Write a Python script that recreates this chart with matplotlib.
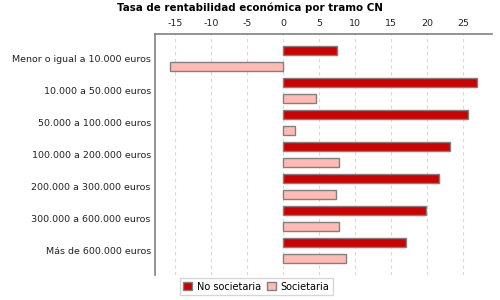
import matplotlib.pyplot as plt
import numpy as np

# Data
tramos = ['Menor o igual a 10.000 euros', '10.000 a 50.000 euros', '50.000 a 100.000 euros',
          '100.000 a 200.000 euros', '200.000 a 300.000 euros', '300.000 a 600.000 euros',
          'Más de 600.000 euros']
no_societaria = [7.5, 26.9, 25.6, 23.1, 21.7, 19.9, 17.1]
societaria = [-15.7, 4.5, 1.7, 7.7, 7.4, 7.8, 8.7]
xticks = [-15, -10, -5, 0, 5, 10, 15, 20, 25]

red = '#CC0000'
pink = '#FFBBB3'
edge = '#808080'

fig = plt.figure(figsize=(5, 3), dpi=100, facecolor='white')
ax = fig.add_axes([0.31, 0.083, 0.674, 0.804])

y = np.arange(len(tramos))
h = 0.27
ax.barh(y - 0.245, no_societaria, height=h, color=red, edgecolor=edge, linewidth=1, label='No societaria', zorder=3)
ax.barh(y + 0.245, societaria, height=h, color=pink, edgecolor=edge, linewidth=1, label='Societaria', zorder=3)

ax.set_xlim(-17.8, 29.0)
ax.set_ylim(6.77, -0.77)
ax.set_yticks(y)
ax.set_yticklabels(tramos, fontsize=6.8)
ax.set_xticks(xticks)
ax.set_xticklabels([str(t) for t in xticks], fontsize=6.8)
ax.xaxis.tick_top()
ax.tick_params(axis='both', length=0, colors='#222222')
ax.tick_params(axis='x', pad=4.5)
ax.tick_params(axis='y', pad=3)
ax.grid(axis='x', color='#d8d8d8', linestyle=(0, (3, 3)), linewidth=0.8, zorder=0)

for s in ['right', 'bottom']:
    ax.spines[s].set_visible(False)
for s in ['top', 'left']:
    ax.spines[s].set_color(edge)
    ax.spines[s].set_linewidth(1.2)

fig.text(0.5, 0.973, 'Tasa de rentabilidad económica por tramo CN', fontsize=7.4, fontweight='bold',
         ha='center', va='center')

leg = fig.legend(loc='lower left', bbox_to_anchor=(0.35, 0.0), ncol=2, fontsize=7, frameon=True,
                 fancybox=False, edgecolor='#cccccc', handlelength=0.9, handleheight=0.9,
                 handletextpad=0.5, columnspacing=0.6, borderpad=0.35)

fig.savefig('out.png', dpi=100)
